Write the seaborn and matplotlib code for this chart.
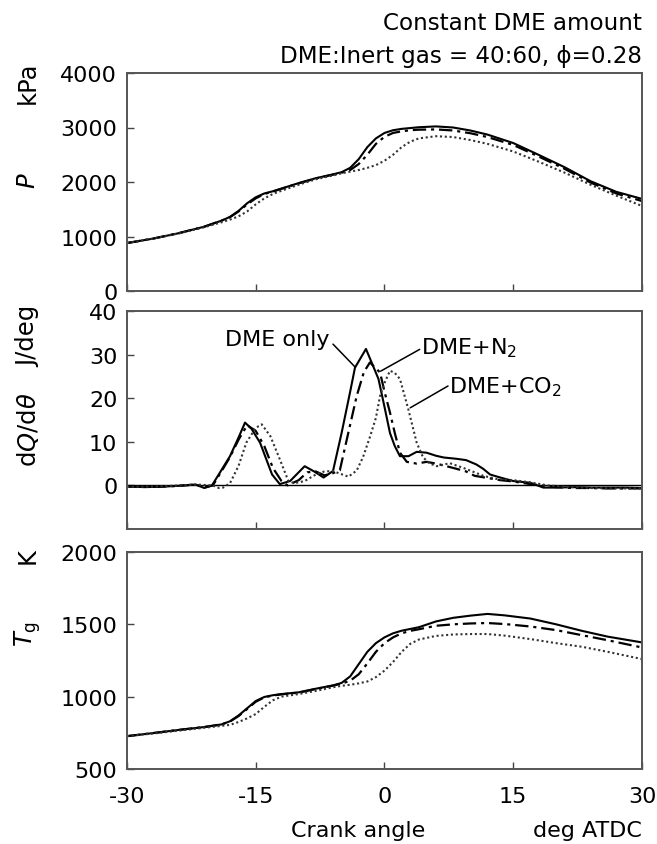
import matplotlib
matplotlib.use("Agg")
import matplotlib.pyplot as plt
import seaborn as sns
import pandas as pd

sns.set_theme(style="white")
plt.rcParams['font.family'] = ['DejaVu Sans']
plt.rcParams['mathtext.fontset'] = 'dejavusans'
for k in ['text.color', 'axes.labelcolor', 'xtick.color', 'ytick.color']:
    plt.rcParams[k] = 'black'

# ---------------- data ----------------
series_names = ["DME only", "DME+N2", "DME+CO2"]

# Panel 1: cylinder pressure P (kPa)
p_ca = [-30, -27, -24, -21, -19, -18, -17, -16, -15, -14, -13, -12, -10, -8, -6, -5,
        -4, -3, -2, -1, 0, 1, 2, 3, 4, 6, 8, 10, 12, 15, 18, 21, 24, 27, 30]
p_dme = [880, 960, 1060, 1180, 1290, 1360, 1470, 1610, 1720, 1790, 1830, 1880, 1980, 2070, 2140, 2180,
         2260, 2420, 2640, 2800, 2900, 2950, 2975, 2990, 3005, 3020, 3000, 2945, 2870, 2715, 2495, 2270, 2015, 1820, 1690]
p_n2 = [880, 960, 1060, 1180, 1290, 1355, 1460, 1590, 1700, 1780, 1825, 1875, 1975, 2065, 2135, 2170,
        2220, 2330, 2500, 2700, 2830, 2900, 2930, 2950, 2960, 2965, 2945, 2895, 2825, 2680, 2465, 2240, 1990, 1790, 1650]
p_co2 = [880, 960, 1055, 1170, 1260, 1310, 1370, 1460, 1590, 1700, 1780, 1840, 1950, 2050, 2120, 2160,
         2190, 2220, 2260, 2310, 2390, 2500, 2640, 2740, 2800, 2840, 2825, 2770, 2700, 2560, 2370, 2170, 1950, 1750, 1560]

# Panel 2: heat release rate dQ/dtheta (J/deg)
q_ca_dme = [-30, -28, -26, -24, -22, -21, -20.1, -19, -18, -17, -16.25, -15.5, -14.5, -13.1, -12.2, -11, -10,
            -9.3, -8.2, -7.1, -6, -5, -4, -3.44, -2.16, -1.5, -0.7, 0, 0.64, 1.2, 1.8, 2.8, 3.75, 4.9, 6,
            6.9, 8.4, 9.5, 10.7, 11.5, 12.3, 13.5, 15, 17, 18.5, 20, 22, 24, 26, 28, 30]
q_dme = [-0.2, -0.4, -0.3, -0.1, 0.2, -0.6, 0, 3.5, 6.7, 11, 14.4, 13, 9.8, 2.5, 0.3, 1, 3,
         4.4, 3.2, 1.8, 3.3, 12, 21.5, 27, 31.3, 28.2, 24.4, 18, 12, 9, 6.7, 6.7, 7.7, 7.5, 6.8,
         6.4, 6.1, 5.8, 4.8, 3.8, 2.5, 1.8, 1.0, 0.6, -0.5, -0.5, -0.4, -0.5, -0.5, -0.5, -0.6]
q_ca_n2 = [-30, -28, -26, -24, -22, -21, -20, -19, -18, -17, -16, -15, -14, -13, -12, -11.3, -10, -9, -8,
           -7, -6, -5.2, -4.2, -3.24, -2.4, -1.7, -0.52, 0, 0.64, 1.2, 1.8, 2.6, 3.75, 4.9, 6, 6.85,
           8.4, 9.5, 10.5, 12, 13.5, 15, 17, 19, 20, 22, 24, 26, 28, 30]
q_n2 = [-0.3, -0.3, -0.3, -0.1, 0.2, -0.5, 0, 3.2, 6.5, 10.5, 13.8, 12.5, 9, 4, 1, 0, 1.2, 3, 3.2,
        2.3, 2.8, 3.5, 12.2, 20.5, 26, 28.2, 25.9, 21.5, 16.7, 12, 7.5, 5.4, 5, 5.4, 5, 4.6,
        3.8, 3.2, 2.2, 1.7, 1.2, 0.9, 0.3, -0.2, -0.4, -0.6, -0.6, -0.7, -0.7, -0.7]
q_ca_co2 = [-30, -28, -26, -24, -22, -20, -19.3, -18.8, -18, -17, -16.1, -15, -14.3, -13.3, -12.2, -11.2,
            -10.5, -9.3, -8, -7, -6, -5.2, -4.2, -3.24, -2.5, -1.7, -1, -0.52, 0, 0.64, 1.2, 1.8, 2.77,
            3.75, 4.5, 5.3, 6.1, 7.6, 9.2, 10.5, 11.5, 13, 15, 17, 19, 21, 24, 27, 30]
q_co2 = [-0.3, -0.3, -0.2, 0, 0.2, 0, -0.6, -0.5, 0.5, 4.5, 9.8, 13.2, 14, 11.3, 6, 1,
         0.5, 1, 2.5, 3.2, 3.3, 2.7, 2, 3.4, 6.5, 11.1, 15.5, 20.5, 23.5, 26.3, 25.8, 24.4, 17.5,
         9.8, 6.4, 5.0, 4.4, 5.1, 4, 3, 2.2, 1.5, 1.2, 0.7, 0, -0.3, -0.6, -0.7, -0.7]

# Panel 3: gas temperature Tg (K)
t_ca = [-30, -27, -24, -21, -19, -18, -17, -16, -15, -14, -13, -12, -10, -8, -6, -5,
        -4, -3, -2, -1, 0, 1, 2, 3, 4, 6, 8, 10, 12, 14, 17, 20, 23, 26, 30]
t_dme = [727, 748, 770, 790, 808, 830, 870, 920, 970, 998, 1010, 1018, 1030, 1055, 1078, 1095,
         1140, 1225, 1310, 1370, 1410, 1438, 1456, 1468, 1480, 1520, 1545, 1560, 1572, 1562, 1540, 1500, 1455, 1415, 1375]
t_n2 = [727, 748, 770, 790, 808, 828, 866, 915, 965, 995, 1008, 1016, 1028, 1053, 1076, 1090,
        1110, 1155, 1230, 1310, 1370, 1410, 1438, 1455, 1466, 1490, 1500, 1506, 1509, 1502, 1485, 1460, 1425, 1390, 1340]
t_co2 = [727, 745, 765, 785, 798, 805, 825, 850, 880, 930, 975, 1000, 1018, 1040, 1065, 1075,
         1082, 1092, 1105, 1135, 1180, 1240, 1310, 1365, 1395, 1420, 1430, 1433, 1433, 1422, 1398, 1370, 1345, 1310, 1260]

x_ticks = [-30, -15, 0, 15, 30]
p_ticks = [0, 1000, 2000, 3000, 4000]
q_ticks = [0, 10, 20, 30, 40]
t_ticks = [500, 1000, 1500, 2000]

# ---------------- styling ----------------
FS = 16
FS_LAB = 17.5
FS_HEAD = 16.6
styles = [
    dict(color="black", lw=1.5, dashes=None),
    dict(color="black", lw=1.6, dashes=(6, 2.2, 1.4, 2.2)),
    dict(color="#333333", lw=1.5, dashes=(1.0, 1.3)),
]

fig = plt.figure(figsize=(6.57, 8.45), dpi=100)
W, H = 657.0, 845.0
left, right = 127 / W, 642 / W


def make_ax(top_px, bot_px):
    return fig.add_axes([left, 1 - bot_px / H, right - left, (bot_px - top_px) / H])


ax1 = make_ax(74, 292)
ax2 = make_ax(312, 530)
ax3 = make_ax(553, 770)


def draw(ax, xs_list, ys_list):
    for i, (xs, ys) in enumerate(zip(xs_list, ys_list)):
        df = pd.DataFrame({"ca": xs, "v": ys})
        st = styles[i]
        sns.lineplot(data=df, x="ca", y="v", ax=ax, estimator=None, sort=False,
                     color=st["color"], lw=st["lw"])
        ln = ax.lines[-1]
        if st["dashes"] is not None:
            ln.set_dashes(st["dashes"])
            ln.set_dash_capstyle("butt")


draw(ax1, [p_ca, p_ca, p_ca], [p_dme, p_n2, p_co2])
draw(ax2, [q_ca_dme, q_ca_n2, q_ca_co2], [q_dme, q_n2, q_co2])
draw(ax3, [t_ca, t_ca, t_ca], [t_dme, t_n2, t_co2])
ax2.axhline(0, color="black", lw=1.0, zorder=1)

for ax, yt, yl in [(ax1, p_ticks, (0, 4000)), (ax2, q_ticks, (-10, 40)), (ax3, t_ticks, (500, 2000))]:
    ax.set_xlim(-30, 30)
    ax.set_ylim(*yl)
    ax.set_xticks(x_ticks)
    ax.set_yticks(yt)
    ax.set_xlabel("")
    ax.set_ylabel("")
    ax.tick_params(direction="in", length=5, width=1.0, color="#444444",
                   labelsize=FS, pad=7, bottom=True, left=True, top=False, right=False)
    ax.tick_params(axis="x", pad=12)
    for sp in ax.spines.values():
        sp.set_color("#555555")
        sp.set_linewidth(1.4)
    ax.grid(False)

ax1.tick_params(labelbottom=False)
ax2.tick_params(labelbottom=False)
ax3.set_xticklabels([str(v) for v in x_ticks])

# y labels
ylx = 28 / W
fig.text(ylx, 1 - 83 / H, "kPa", rotation=90, ha="center", va="center", fontsize=FS_LAB)
fig.text(ylx, 1 - 181 / H, "$P$", rotation=90, ha="center", va="center", fontsize=FS_LAB)
fig.text(ylx, 1 - 336 / H, "J/deg", rotation=90, ha="center", va="center", fontsize=FS_LAB)
fig.text(ylx, 1 - 430 / H, r"d$Q$/d$\theta$", rotation=90, ha="center", va="center", fontsize=FS_LAB)
fig.text(ylx, 1 - 556 / H, "K", rotation=90, ha="center", va="center", fontsize=FS_LAB)
fig.text(ylx, 1 - 634 / H, r"$T_{\mathrm{g}}$", rotation=90, ha="center", va="center", fontsize=FS_LAB)

# x labels
fig.text(358 / W, 1 - 831 / H, "Crank angle", ha="center", va="center", fontsize=FS)
fig.text(right, 1 - 831 / H, "deg ATDC", ha="right", va="center", fontsize=FS)

# header
fig.text(right, 1 - 23 / H, "Constant DME amount", ha="right", va="center", fontsize=FS_HEAD)
fig.text(right, 1 - 56 / H, "DME:Inert gas = 40:60, \u03d5=0.28", ha="right", va="center", fontsize=FS_HEAD)

# annotations in panel 2
ax2.text(-6.4, 33.6, "DME only", ha="right", va="center", fontsize=FS)
ax2.plot([-6.0, -3.4], [32.4, 27.1], color="black", lw=1.1)
ax2.text(4.3, 31.6, "DME+N$_2$", ha="left", va="center", fontsize=FS)
ax2.plot([4.1, -0.45], [31.2, 26.2], color="black", lw=1.1)
ax2.text(7.5, 22.8, "DME+CO$_2$", ha="left", va="center", fontsize=FS)
ax2.plot([7.4, 3.0], [22.8, 17.8], color="black", lw=1.1)

fig.savefig("out.png", dpi=100)
